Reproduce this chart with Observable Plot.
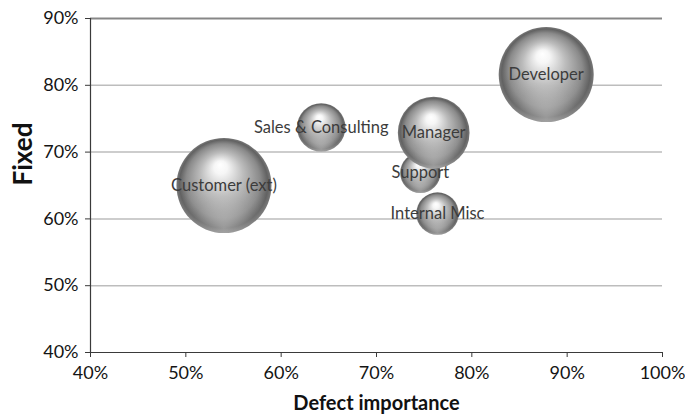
<!DOCTYPE html>
<html>
<head>
<meta charset="utf-8">
<script src="https://cdn.jsdelivr.net/npm/d3@7"></script>
<script src="https://cdn.jsdelivr.net/npm/@observablehq/plot@0.6"></script>
<style>
  html, body { margin: 0; padding: 0; background: #ffffff; }
  #chart svg { display: block; }
</style>
</head>
<body>
<div id="chart"></div>
<script>
// Reporter roles: how important their defects are vs. how many got fixed
const roles      = ["Customer (ext)", "Sales & Consulting", "Support", "Manager", "Internal Misc", "Developer"];
const importance = [0.540, 0.642, 0.746, 0.760, 0.764, 0.878];
const fixed      = [0.650, 0.737, 0.669, 0.729, 0.608, 0.816];
const reports    = [100, 26, 18, 57, 20, 100];

const xTicks = [0.4, 0.5, 0.6, 0.7, 0.8, 0.9, 1.0];
const yTicks = [0.4, 0.5, 0.6, 0.7, 0.8, 0.9];

const rows = roles.map((role, i) => ({
  role, importance: importance[i], fixed: fixed[i], reports: reports[i]
}));

const pct = d3.format(".0%");
const font = "Lato, 'Open Sans', sans-serif";

const chart = Plot.plot({
  width: 685,
  height: 417,
  marginLeft: 90,
  marginRight: 23,
  marginTop: 18,
  marginBottom: 65,
  style: { fontFamily: font, background: "#ffffff", color: "#141414" },
  x: { domain: [xTicks[0], xTicks[xTicks.length - 1]] },
  y: { domain: [yTicks[0], yTicks[yTicks.length - 1]] },
  r: { type: "sqrt", domain: [0, 100], range: [0, 47.5] },
  marks: [
    // horizontal gridlines, the top one heavier
    Plot.ruleY(yTicks.slice(1, -1), { stroke: "#bdbdbd", strokeWidth: 1.5 }),
    Plot.ruleY(yTicks.slice(-1), { stroke: "#878787", strokeWidth: 2.2 }),
    // axis lines
    Plot.ruleX(xTicks.slice(0, 1), { stroke: "#3a3a3a", strokeWidth: 1.2 }),
    Plot.ruleY(yTicks.slice(0, 1), { stroke: "#3a3a3a", strokeWidth: 1.2 }),
    Plot.axisX({
      ticks: xTicks, tickFormat: pct, tickSize: 5, tickPadding: 9,
      fontSize: 18, label: null, stroke: "#3a3a3a", fill: "#141414"
    }),
    Plot.axisY({
      ticks: yTicks, tickFormat: pct, tickSize: 5, tickPadding: 7,
      fontSize: 18, label: null, stroke: "#3a3a3a", fill: "#141414"
    }),
    // shaded bubbles
    Plot.dot(rows, {
      x: "importance", y: "fixed", r: "reports",
      fill: "url(#sphere)", stroke: "none", sort: null
    }),
    Plot.dot(rows, {
      x: "importance", y: "fixed", r: "reports",
      fill: "url(#sphere-rim)", stroke: "none", sort: null
    }),
    Plot.text(rows, {
      x: "importance", y: "fixed", text: "role",
      fill: "#3c3c3c", fontSize: 16.5, textAnchor: "middle", lineAnchor: "middle"
    }),
    // axis titles
    Plot.text(["Defect importance"], {
      frameAnchor: "bottom", dy: 51, fontSize: 20, fontWeight: "bold",
      fill: "#111111", lineAnchor: "middle"
    }),
    Plot.text(["Fixed"], {
      frameAnchor: "left", dx: -67, rotate: -90, fontSize: 26, fontWeight: "bold",
      fill: "#111111", lineAnchor: "middle"
    })
  ]
});

// gradients giving the bubbles a glossy sphere look
const ns = "http://www.w3.org/2000/svg";
const defs = document.createElementNS(ns, "defs");
function gradient(id, attrs, stops) {
  const g = document.createElementNS(ns, "radialGradient");
  g.setAttribute("id", id);
  for (const [k, v] of Object.entries(attrs)) g.setAttribute(k, v);
  for (const [offset, color, opacity] of stops) {
    const s = document.createElementNS(ns, "stop");
    s.setAttribute("offset", offset);
    s.setAttribute("stop-color", color);
    s.setAttribute("stop-opacity", opacity);
    g.appendChild(s);
  }
  defs.appendChild(g);
}
gradient("sphere", { cx: "0.5", cy: "0.5", r: "0.5", fx: "0.46", fy: "0.28" }, [
  [0, "#ffffff", 1],
  [0.14, "#f6f6f6", 1],
  [0.45, "#bcbcbc", 1],
  [0.78, "#8a8a8a", 1],
  [0.93, "#626262", 1],
  [1, "#787878", 1]
]);
gradient("sphere-rim", { cx: "0.5", cy: "0.95", r: "0.55" }, [
  [0, "#ffffff", 0.35],
  [0.6, "#ffffff", 0.08],
  [1, "#ffffff", 0]
]);
chart.insertBefore(defs, chart.firstChild);

document.getElementById("chart").appendChild(chart);
</script>
</body>
</html>
